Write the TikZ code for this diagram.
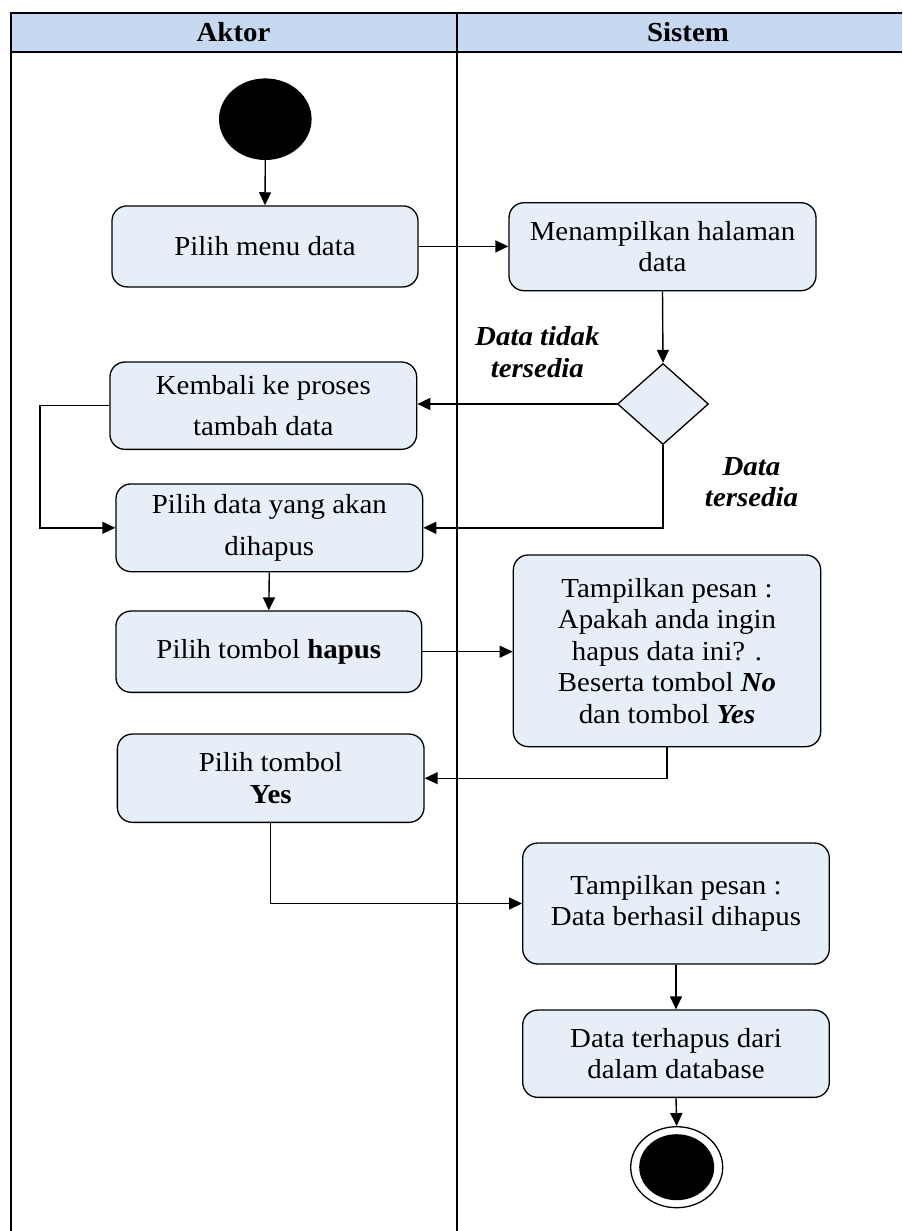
\documentclass[tikz,border=0pt]{standalone}
\usepackage{fontspec}
\setmainfont{Liberation Serif}[FakeStretch=1.05]
\usetikzlibrary{shapes.geometric,arrows.meta}
\definecolor{hdr}{HTML}{C6D9F0}
\definecolor{boxfill}{HTML}{E6EEF8}
\newcommand\diagfont{\fontsize{27.5}{31.5}\selectfont}
\begin{document}
\begin{tikzpicture}[x=1pt,y=-1pt,
  frame/.style={line width=2pt, draw=black},
  hdrtext/.style={font=\diagfont\bfseries, inner sep=0pt, anchor=base},
  act/.style={draw=black, line width=1.3pt, fill=boxfill, rounded corners=15pt,
    align=center, inner sep=0pt, font=\diagfont},
  dec/.style={draw=black, line width=1.3pt, fill=boxfill, diamond, inner sep=0pt,
    minimum width=91pt, minimum height=81pt},
  lbl/.style={font=\diagfont\bfseries\itshape, align=center, inner sep=0pt},
  flow/.style={line width=1.4pt, -{Triangle[length=13pt,width=12pt]}},
  startnode/.style={ellipse, fill=black, inner sep=0pt, minimum width=92.6pt, minimum height=81.6pt},
  endouter/.style={ellipse, draw=black, line width=1.3pt, fill=white, inner sep=0pt, minimum width=92pt, minimum height=81pt},
  endinner/.style={ellipse, fill=black, inner sep=0pt, minimum width=75pt, minimum height=66pt}
]
\useasboundingbox (0,0) rectangle (902,1231);
% swimlane frame
\fill[hdr] (11.3,12.7) rectangle (902,52.3);
\draw[frame] (902,12.7) -- (11.3,12.7) -- (11.3,1231);
\draw[frame] (11.3,52.3) -- (902,52.3);
\draw[frame] (456.7,12.7) -- (456.7,1231);
\node[hdrtext] (h1) at (233.5,41.7) {Aktor};
\node[hdrtext] (h2) at (688,41.7) {Sistem};

% nodes
\node[startnode] (start) at (265.3,119.2) {};
\node[act, minimum width=306pt, minimum height=81pt] (a1) at (265,246.4) {Pilih menu data};
\node[act, minimum width=307pt, minimum height=88pt] (s1) at (662.5,246.7) {Menampilkan halaman\\data};
\node[dec] (d) at (663,404) {};
\node[act, minimum width=306.7pt, minimum height=87.3pt] (a2) at (263.3,405.7) {Kembali ke proses\\[10pt]tambah data};
\node[act, minimum width=306.7pt, minimum height=87.7pt] (a3) at (269.3,527.8) {Pilih data yang akan\\[10pt]dihapus};
\node[act, minimum width=305.7pt, minimum height=81.3pt] (a4) at (268.8,651.7) {Pilih tombol \textbf{hapus}};
\node[act, minimum width=307.4pt, minimum height=191.7pt] (s2) at (667,650.8) {Tampilkan pesan :\\Apakah anda ingin\\hapus data ini? .\\Beserta tombol \textbf{\textit{No}}\\dan tombol \textbf{\textit{Yes}}};
\node[act, minimum width=306.7pt, minimum height=88.3pt] (a5) at (270.7,778.2) {Pilih tombol\\\textbf{Yes}};
\node[act, minimum width=306.6pt, minimum height=121pt] (s3) at (676,903.5) {Tampilkan pesan :\\Data berhasil dihapus};
\node[act, minimum width=306.6pt, minimum height=87.3pt] (s4) at (676,1053.7) {Data terhapus dari\\dalam database};
\node[endouter] (end) at (676.7,1167.2) {};
\node[endinner] (endc) at (end.center) {};

% labels
\node[lbl] (l1) at (537.4,352) {Data tidak\\tersedia};
\node[lbl] (l2) at (751.5,482) {Data\\tersedia};

% connectors
\coordinate (lp) at (40,527.8);
\draw[flow] (start.south) -- (a1.north);
\draw[flow] (a1.east) -- (a1.east -| s1.west);
\draw[flow] (s1.south) -- (d.north);
\draw[flow] (d.west) -- (d.west -| a2.east);
\draw[flow] (d.south) |- (a3.east);
\draw[flow] (a2.west) -| (lp) -- (a3.west);
\draw[flow] (a3.south) -- (a4.north);
\draw[flow] (a4.east) -- (a4.east -| s2.west);
\draw[flow] (s2.south) |- (a5.east);
\draw[flow] (a5.south) |- (s3.west);
\draw[flow] (s3.south) -- (s4.north);
\draw[flow] (s4.south) -- (end.north);
\end{tikzpicture}
\end{document}
